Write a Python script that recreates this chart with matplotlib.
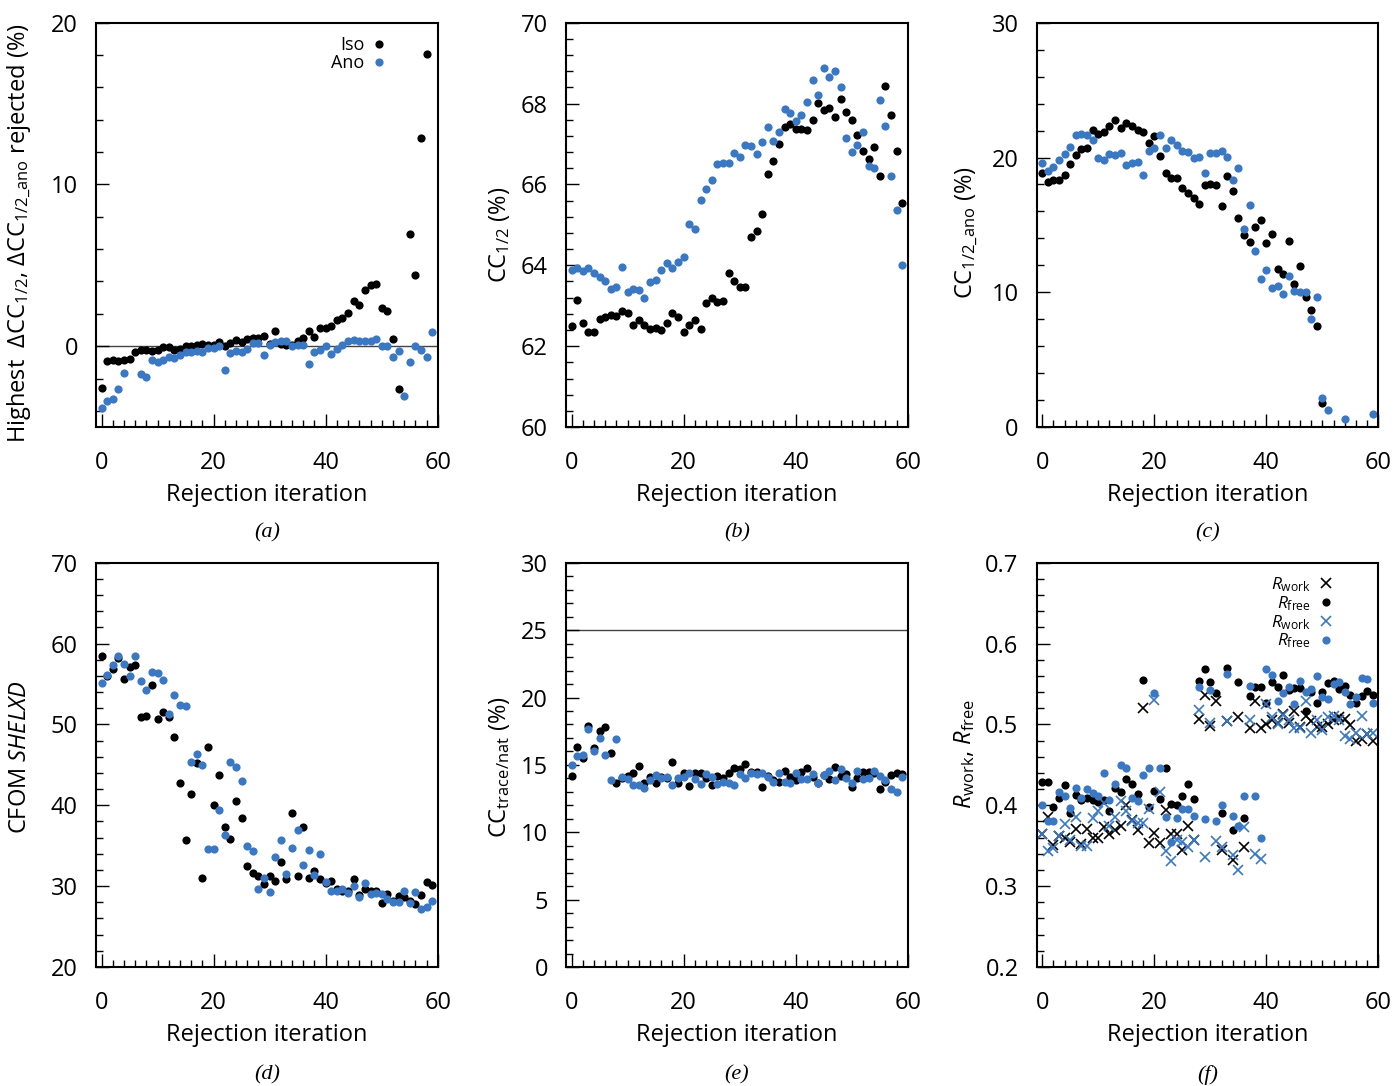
"""
Six-panel rejection-iteration figure: (a) highest dCC rejected, (b) CC1/2,
(c) CC1/2_ano, (d) CFOM SHELXD, (e) CC trace/nat, (f) Rwork / Rfree.
Black = Iso, blue = Ano.
Output: out.png
"""
import numpy as np
import matplotlib.pyplot as plt
from matplotlib.ticker import MultipleLocator, FormatStrFormatter

nan = np.nan
BLUE = '#3b78c4'

# === Data, index = rejection iteration 0..59 ===
iteration = np.arange(60)

a_iso = [-2.58, -0.93, -0.85, -0.93, -0.83, -0.79, -0.33, -0.23, -0.23, -0.27,
         -0.21, -0.06, -0.06, -0.21, -0.17, -0.02, 0.00, 0.10, 0.14, 0.10,
         0.10, 0.25, 0.04, 0.19, 0.39, 0.25, 0.43, 0.50, 0.50, 0.60,
         0.15, 0.91, 0.12, 0.10, 0.05, 0.31, 0.52, 0.93, 0.56, 1.14,
         1.14, 1.24, 1.59, 1.74, 2.05, 2.77, 2.56, 3.49, 3.76, 3.82,
         2.38, 2.15, 0.43, -2.64, nan, 6.92, 4.38, 12.85, 18.08, nan]
a_ano = [-3.82, -3.37, -3.26, -2.64, -1.67, nan, nan, -1.71, -1.92, -0.83,
         -0.99, -0.83, -0.64, -0.72, -0.54, -0.33, -0.33, -0.27, -0.37, -0.10,
         -0.12, 0.00, -1.47, -0.43, -0.31, -0.33, -0.17, 0.19, 0.19, -0.52,
         0.10, 0.25, 0.31, 0.31, 0.04, 0.10, 0.10, -1.10, -0.37, -0.23,
         0.04, -0.48, -0.17, 0.10, 0.29, 0.41, 0.35, 0.29, 0.35, 0.45,
         0.00, 0.00, -0.64, -0.27, -3.06, -0.97, 0.00, -0.23, -0.68, 0.87]

b_iso = [62.49, 63.14, 62.58, 62.36, 62.36, 62.67, 62.73, 62.77, 62.75, 62.87,
         62.81, 62.53, 62.65, 62.53, 62.42, 62.44, 62.40, 62.58, 62.81, 62.73,
         62.36, 62.53, 62.65, 62.42, 63.08, 63.19, 63.10, 63.12, 63.80, 63.60,
         63.47, 63.47, 64.71, 64.86, 65.28, 66.25, 66.58, 67.01, 67.42, 67.49,
         67.38, 67.38, 67.34, 67.60, 68.02, 67.85, 67.90, 67.67, 68.11, 67.79,
         67.60, 67.22, 66.83, 66.62, 66.93, 66.22, 68.44, 67.71, 66.82, 65.53]
b_ano = [63.88, 63.93, 63.87, 63.93, 63.80, 63.70, 63.61, 63.41, 63.47, 63.95,
         63.35, 63.42, 63.39, 63.19, 63.58, 63.64, 63.88, 64.05, 63.94, 64.09,
         64.21, 65.02, 64.89, 65.61, 65.88, 66.12, 66.50, 66.54, 66.53, 66.77,
         66.68, 66.97, 66.96, 66.75, 67.05, 67.42, 67.08, 67.30, 67.86, 67.77,
         67.57, 67.71, 68.04, 68.59, 68.22, 68.89, 68.66, 68.82, 68.40, 67.16,
         66.81, 66.97, 67.30, 66.46, 66.41, 68.10, 67.44, 66.21, 65.37, 64.02]

c_iso = [18.84, 18.17, 18.35, 18.35, 18.67, 19.53, 20.20, 20.64, 20.69, 22.05,
         21.75, 21.93, 22.37, 22.81, 22.20, 22.57, 22.37, 22.07, 21.93, 21.09,
         21.58, 20.10, 18.84, 18.49, 18.47, 17.75, 17.38, 17.01, 16.54, 17.98,
         18.05, 17.98, 16.37, 18.62, 17.48, 15.51, 14.27, 13.73, 14.84, 15.38,
         13.68, 14.30, 11.75, 11.38, 13.78, 10.64, 11.93, 9.65, 8.67, 7.48,
         1.80, nan, nan, nan, nan, nan, nan, nan, nan, nan]
c_ano = [19.58, 18.99, 19.28, 19.83, 20.27, 20.81, 21.68, 21.75, 21.70, 21.31,
         19.98, 19.83, 20.27, 20.22, 20.32, 19.46, 19.58, 19.65, 18.72, 20.52,
         20.72, 21.70, 20.69, 21.31, 20.96, 20.52, 20.40, 19.95, 20.07, 18.84,
         20.32, 20.32, 20.52, 20.02, 18.37, 19.23, 14.67, 16.49, 13.06, 10.99,
         11.68, 10.35, 10.49, 9.90, 11.21, 10.10, 10.02, 10.02, 8.00, 9.63,
         2.12, 1.26, nan, nan, 0.59, nan, nan, nan, nan, 0.99]

d_iso = [58.47, 55.95, 56.90, 58.20, 55.66, 57.11, 57.31, 50.91, 51.03, 54.83,
         50.70, 51.53, 50.91, 48.43, 42.73, 35.70, 41.40, 45.25, 30.99, 47.19,
         40.04, 43.80, 37.27, 35.83, 40.50, 38.43, 32.44, 31.61, 31.28, 30.25,
         31.28, 30.66, 32.93, 30.87, 39.05, 31.20, 37.27, 30.99, 31.90, 30.87,
         30.33, 30.66, 29.63, 29.42, 29.34, 30.87, 28.88, 29.63, 29.42, 29.34,
         27.89, 29.01, 28.18, 28.72, 28.60, 28.18, 27.85, 28.93, 30.45, 30.12]
d_ano = [55.17, 56.16, 57.31, 58.47, 57.52, 55.99, 58.47, 55.37, 54.21, 56.49,
         56.36, 55.54, 51.32, 53.60, 52.36, 52.23, 45.41, 46.36, 45.04, 34.59,
         34.59, 39.42, 36.32, 45.41, 44.71, 42.98, 34.96, 34.30, 29.63, 30.95,
         29.30, 33.55, 35.70, 31.49, 34.71, 36.94, 32.60, 34.50, 31.40, 33.97,
         30.45, 29.42, 29.42, 29.63, 29.21, 30.04, 28.60, 30.33, 29.01, 29.13,
         29.01, 28.39, 27.98, 27.98, 29.42, 27.89, 29.30, 27.15, 27.36, 28.10]

e_iso = [14.18, 16.29, 15.50, 17.90, 16.24, 17.55, 17.80, 15.87, 13.64, 14.01,
         14.18, 14.38, 14.88, 13.69, 14.13, 13.69, 14.13, 14.01, 15.25, 13.64,
         14.43, 13.44, 14.38, 14.43, 14.01, 13.51, 14.18, 14.01, 14.38, 14.75,
         14.68, 15.07, 14.50, 14.50, 13.39, 14.18, 13.89, 13.71, 14.58, 14.08,
         13.89, 14.50, 14.75, 14.13, 13.69, 14.26, 13.96, 14.83, 14.18, 14.33,
         13.39, 14.01, 14.50, 14.50, 14.38, 13.19, 13.76, 14.26, 14.38, 14.33]
e_ano = [15.00, 15.69, 15.74, 17.67, 16.06, 16.98, 15.74, 13.89, 16.91, 14.13,
         13.94, 13.51, 13.51, 13.27, 13.89, 14.26, 14.01, 14.13, 13.47, 14.01,
         14.13, 14.38, 13.96, 13.56, 14.33, 14.13, 13.59, 13.76, 13.69, 13.47,
         14.33, 14.01, 14.38, 14.33, 14.43, 14.08, 13.76, 14.38, 13.76, 13.64,
         14.38, 13.96, 13.96, 14.33, 13.64, 14.26, 14.58, 13.89, 14.70, 14.01,
         13.64, 14.58, 13.96, 14.01, 14.58, 14.18, 13.84, 13.19, 13.02, 14.13]
e_ref = 25  # horizontal reference line

f_rwork_iso = [0.364, 0.386, 0.351, 0.362, 0.360, 0.355, 0.371, 0.352, 0.371, 0.360,
               0.360, 0.373, 0.365, 0.369, 0.375, 0.400, 0.382, 0.369, 0.520, 0.353,
               0.366, 0.353, 0.394, 0.364, 0.364, 0.345, 0.374, 0.357, 0.507, 0.536,
               0.498, 0.529, 0.345, 0.504, 0.332, 0.509, 0.349, 0.495, 0.529, 0.496,
               0.500, 0.505, 0.502, 0.513, 0.502, 0.517, 0.497, 0.510, 0.504, 0.497,
               0.497, 0.501, 0.505, 0.509, 0.507, 0.499, 0.479, 0.482, 0.488, 0.480]
f_rfree_iso = [0.429, 0.429, 0.398, 0.409, 0.425, 0.390, 0.413, 0.407, 0.409, 0.406,
               0.404, 0.407, 0.393, 0.422, 0.416, 0.432, 0.426, 0.414, 0.555, 0.398,
               0.418, 0.408, 0.446, 0.402, 0.400, 0.411, 0.426, 0.408, 0.554, 0.568,
               0.552, 0.539, 0.390, 0.570, 0.369, 0.552, 0.384, 0.535, 0.546, 0.546,
               0.526, 0.552, 0.546, 0.561, 0.542, 0.545, 0.545, 0.517, 0.540, 0.526,
               0.540, 0.551, 0.554, 0.544, 0.548, 0.536, 0.527, 0.535, 0.541, 0.536]
f_rwork_ano = [0.365, 0.343, 0.347, 0.362, 0.377, 0.357, 0.386, 0.350, 0.350, 0.384,
               0.393, 0.403, 0.375, 0.385, 0.405, 0.393, 0.380, 0.378, 0.378, 0.395,
               0.530, 0.417, 0.344, 0.331, 0.357, 0.354, 0.349, 0.357, 0.518, 0.336,
               0.502, 0.356, 0.349, 0.504, 0.338, 0.320, 0.373, 0.505, 0.340, 0.333,
               0.525, 0.509, 0.501, 0.512, 0.506, 0.496, 0.496, 0.529, 0.490, 0.506,
               0.493, 0.509, 0.511, 0.505, 0.486, 0.482, 0.490, 0.510, 0.488, 0.489]
f_rfree_ano = [0.400, 0.380, 0.380, 0.417, 0.412, 0.397, 0.422, 0.409, 0.420, 0.415,
               0.412, 0.440, 0.406, 0.426, 0.450, 0.446, 0.409, 0.405, 0.438, 0.446,
               0.539, 0.446, 0.386, 0.354, 0.384, 0.395, 0.395, 0.387, 0.546, 0.383,
               0.543, 0.381, 0.400, 0.562, 0.387, 0.374, 0.412, 0.548, 0.412, 0.360,
               0.568, 0.561, 0.529, 0.539, 0.546, 0.525, 0.554, 0.540, 0.544, 0.560,
               0.534, 0.531, 0.550, 0.552, 0.540, 0.525, 0.534, 0.557, 0.556, 0.526]

# === Style ===
plt.rcParams['font.family'] = ['Open Sans', 'DejaVu Sans']
plt.rcParams['mathtext.fontset'] = 'custom'
plt.rcParams['mathtext.rm'] = 'Open Sans'
plt.rcParams['mathtext.it'] = 'Open Sans:italic'
plt.rcParams['mathtext.bf'] = 'Open Sans:bold'
FS = 17
MS = 5.9

fig = plt.figure(figsize=(13.99, 10.86), dpi=100)
lefts = [0.0686, 0.4046, 0.7410]
W = 0.2443
row_bottom = [0.6068, 0.1096]
H = 0.3722


def make_ax(row, col, ylim, ymaj, ymin, ylabel, lab_x, lab_y=0.5):
    ax = fig.add_axes([lefts[col], row_bottom[row], W, H])
    ax.set_xlim(-1, 60)
    ax.set_ylim(*ylim)
    ax.set_xticks([0, 20, 40, 60])
    ax.xaxis.set_minor_locator(MultipleLocator(2))
    ax.yaxis.set_major_locator(MultipleLocator(ymaj))
    ax.yaxis.set_minor_locator(MultipleLocator(ymin))
    ax.tick_params(which='both', direction='in', top=False, right=False, width=1.0)
    ax.tick_params(which='major', length=9.5, labelsize=FS)
    ax.tick_params(which='minor', length=5)
    ax.tick_params(axis='y', pad=13)
    ax.tick_params(axis='x', pad=17)
    for s in ax.spines.values():
        s.set_linewidth(1.5)
    ax.set_xlabel('Rejection iteration', fontsize=FS, labelpad=6)
    ax.set_ylabel(ylabel, fontsize=FS)
    ax.yaxis.set_label_coords(lab_x, lab_y)
    return ax


def dots(ax, y, color, label=None):
    ax.plot(iteration, y, 'o', color=color, markersize=MS, markeredgewidth=0, label=label)


def crosses(ax, y, color, label=None):
    ax.plot(iteration, y, 'x', color=color, markersize=6.5, markeredgewidth=1.2, label=label)


# (a)
ax = make_ax(0, 0, (-5, 20), 10, 2,
             r'Highest  $\Delta\mathrm{CC}_{1/2}$, $\Delta\mathrm{CC}_{1/2\_\mathrm{ano}}$ rejected (%)',
             -0.185, 0.48)
ax.axhline(0, color='#444444', lw=1.0, zorder=1)
dots(ax, a_iso, 'black', 'Iso')
dots(ax, a_ano, BLUE, 'Ano')
ax.legend(loc='upper right', bbox_to_anchor=(0.87, 0.99), frameon=False, markerfirst=False,
          fontsize=13, handlelength=0.6, handletextpad=0.5, labelspacing=0.0, borderpad=0)

# (b)
ax = make_ax(0, 1, (60, 70), 2, 0.4, r'CC$_{1/2}$ (%)', -0.158, 0.475)
dots(ax, b_iso, 'black')
dots(ax, b_ano, BLUE)

# (c)
ax = make_ax(0, 2, (0, 30), 10, 2, r'CC$_{1/2\_\mathrm{ano}}$ (%)', -0.166, 0.48)
dots(ax, c_iso, 'black')
dots(ax, c_ano, BLUE)

# (d)
ax = make_ax(1, 0, (20, 70), 10, 2, r'CFOM $\mathit{SHELXD}$', -0.187, 0.52)
dots(ax, d_iso, 'black')
dots(ax, d_ano, BLUE)

# (e)
ax = make_ax(1, 1, (0, 30), 5, 1, r'CC$_{\mathrm{trace/nat}}$ (%)', -0.158, 0.495)
ax.axhline(e_ref, color='#444444', lw=1.0, zorder=1)
dots(ax, e_iso, 'black')
dots(ax, e_ano, BLUE)

# (f)
ax = make_ax(1, 2, (0.2, 0.7), 0.1, 0.02, r'$R_{\mathrm{work}}$, $R_{\mathrm{free}}$', -0.175, 0.527)
ax.yaxis.set_major_formatter(FormatStrFormatter('%.1f'))
crosses(ax, f_rwork_iso, 'black', r'$R_{\mathrm{work}}$')
dots(ax, f_rfree_iso, 'black', r'$R_{\mathrm{free}}$')
crosses(ax, f_rwork_ano, BLUE, r'$R_{\mathrm{work}}$')
dots(ax, f_rfree_ano, BLUE, r'$R_{\mathrm{free}}$')
ax.legend(loc='upper right', bbox_to_anchor=(0.888, 0.99), frameon=False, markerfirst=False,
          fontsize=12.5, handlelength=0.6, handletextpad=0.6, labelspacing=0.0, borderpad=0)

# panel tags
for row, ytag in zip(range(2), [0.509, 0.0105]):
    for col in range(3):
        tag = '(' + 'abcdef'[row * 3 + col] + ')'
        fig.text(lefts[col] + W / 2, ytag, tag, ha='center', va='center',
                 family='Liberation Serif', style='italic', fontsize=16)

plt.savefig('out.png', dpi=100)
